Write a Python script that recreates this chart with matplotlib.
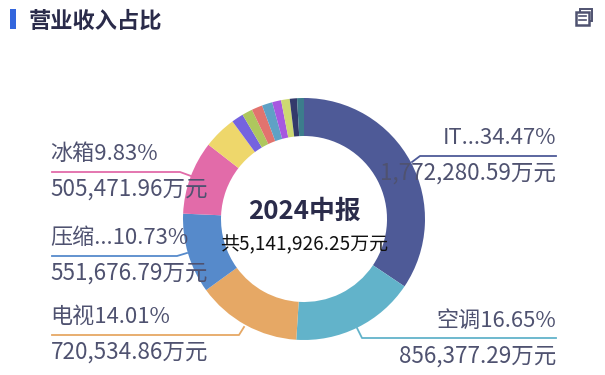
import matplotlib
matplotlib.use("Agg")
import matplotlib.pyplot as plt
from matplotlib.patches import Rectangle

plt.rcParams['font.family'] = ['Noto Sans CJK SC', 'DejaVu Sans']

# share of revenue, clockwise from the top
shares = [34.47, 16.65, 14.01, 10.73, 9.83, 4.42, 1.6, 1.4, 1.45, 1.4, 1.2, 1.15, 0.97, 0.92]
colors = ['#4e5a97', '#62b3ca', '#e6a865', '#568acb', '#e26ba9', '#eed76b', '#7563df',
          '#aec75e', '#e2736e', '#5fa1c5', '#a658e0', '#cdd971', '#333a6b', '#3c7d8c']

names = ['IT...34.47%', '空调16.65%', '电视14.01%', '压缩...10.73%', '冰箱9.83%']
amounts = ['1,772,280.59万元', '856,377.29万元', '720,534.86万元', '551,676.79万元', '505,471.96万元']

title = '营业收入占比'
center_title = '2024中报'
center_total = '共5,141,926.25万元'

H = 375
TXT = '#4f5270'

def py(y):
    return H - y

fig = plt.figure(figsize=(6.05, 3.75), dpi=100)
ax = fig.add_axes([0, 0, 1, 1])
ax.pie(shares, colors=colors, startangle=90, counterclock=False, center=(304, py(219)),
       radius=121, wedgeprops=dict(width=38, edgecolor='none'), frame=True)
ax.set_xlim(0, 605)
ax.set_ylim(0, H)
ax.set_aspect('auto')
ax.axis('off')

# leader lines and labels: (line x, line y), text x, align, name y, amount y
leaders = [
    ([556, 420, 412], [156, 156, 162], 556, 'right', 138, 173),
    ([556, 362, 357], [338, 338, 328], 556, 'right', 321, 356),
    ([52, 239, 244], [335, 335, 327], 50.5, 'left', 317, 352),
    ([52, 177, 187], [256, 256, 253], 50.5, 'left', 238, 273),
    ([52, 180, 191], [172, 172, 176], 50.5, 'left', 154, 189),
]
for i, (xs, ys, tx, ha, y1, y2) in enumerate(leaders):
    ax.plot(xs, [py(v) for v in ys], color=colors[i], lw=1.3, zorder=3)
    ax.text(tx, py(y1), names[i], ha=ha, va='center', fontsize=15.9, color=TXT, zorder=4)
    ax.text(tx, py(y2), amounts[i], ha=ha, va='center', fontsize=16.2, color=TXT, zorder=4)

ax.text(304, py(211), center_title, ha='center', va='center', fontsize=18.6, fontweight='bold', color='#2a2b4a')
ax.text(304, py(245), center_total, ha='center', va='center', fontsize=13.7, color='#111111')

# title with its blue marker
ax.add_patch(Rectangle((10, py(29)), 6, 20, color='#3366dd', lw=0))
ax.text(29, py(21), title, ha='left', va='center', fontsize=16, fontweight='bold', color='#2a2b4a')

# toolbox icon
ice = '#4f5270'
ax.add_patch(Rectangle((580, py(21)), 12, 12, fill=False, ec=ice, lw=1.4))
ax.add_patch(Rectangle((576, py(25)), 13, 13, fc='white', ec=ice, lw=1.8, zorder=3))
ax.plot([579, 586], [py(16), py(16)], color=ice, lw=1.2, zorder=4)
ax.plot([579, 586], [py(20), py(20)], color=ice, lw=1.2, zorder=4)

fig.savefig('out.png', dpi=100)
